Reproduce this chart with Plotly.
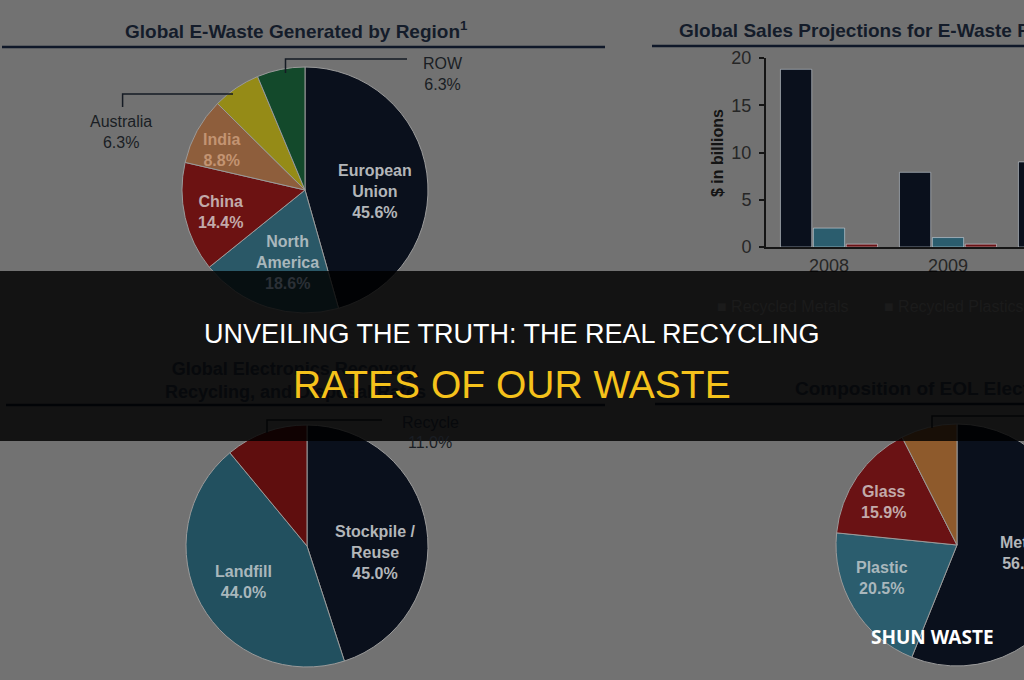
import plotly.graph_objects as go

# ---------------- data ----------------
region_labels = ["European Union", "North America", "China", "India", "Australia", "ROW"]
region_values = [45.6, 18.6, 14.4, 8.8, 6.3, 6.3]
region_colors = ["#0a101c", "#2a5867", "#6c1212", "#8e5e3c", "#958b17", "#13492b"]

years = ["2008", "2009", "2010"]
recycled_metals = [18.8, 7.9, 9.0]
recycled_plastics = [2.0, 1.0, 1.1]
recycled_glass = [0.3, 0.3, 0.3]
y_ticks = [0, 5, 10, 15, 20]

fate_labels = ["Stockpile / Reuse", "Landfill", "Recycle"]
fate_values = [45.0, 44.0, 11.0]
fate_colors = ["#0a101c", "#22505f", "#5f0e0e"]

material_labels = ["Metals", "Plastic", "Glass", "Other"]
material_values = [56.1, 20.5, 15.9, 7.5]
material_colors = ["#0a101c", "#2b5d6e", "#6a1214", "#8e5a2c"]

# ---------------- geometry helpers ----------------
W, H = 1160, 680          # drawing surface (right part is clipped to the 1024 view)
VIEW_W = 1024
BG = "#727272"
NAVY_TXT = "#141c2a"
DIM_TXT = "#07090c"
LIGHT = "#b3b6b9"
ARIAL = "Liberation Sans, Arial, sans-serif"


def px(x):
    return x / W


def py(y):
    return 1 - y / H


def pie_domain(cx, cy, r):
    return dict(x=[px(cx - r), px(cx + r)], y=[py(cy + r), py(cy - r)])


def two_line(label):
    if " / " in label:
        return label.replace(" / ", " /<br>")
    return label.replace(" ", "<br>")


def pct(v):
    return f"{v:.1f}%"


fig = go.Figure()

# ---------------- pies ----------------
fig.add_trace(go.Pie(labels=region_labels, values=region_values, sort=False,
                     direction="clockwise", rotation=0, textinfo="none",
                     marker=dict(colors=region_colors, line=dict(color="#9a9a9a", width=1)),
                     domain=pie_domain(305, 190, 123), hoverinfo="label+percent"))
fig.add_trace(go.Pie(labels=fate_labels, values=fate_values, sort=False,
                     direction="clockwise", rotation=0, textinfo="none",
                     marker=dict(colors=fate_colors, line=dict(color="#9a9a9a", width=1)),
                     domain=pie_domain(307, 546, 121), hoverinfo="label+percent"))
fig.add_trace(go.Pie(labels=material_labels, values=material_values, sort=False,
                     direction="clockwise", rotation=0, textinfo="none",
                     marker=dict(colors=material_colors, line=dict(color="#9a9a9a", width=1)),
                     domain=pie_domain(957, 545, 121), hoverinfo="label+percent"))

# ---------------- bars ----------------
fig.add_trace(go.Bar(x=years, y=recycled_metals, name="Recycled Metals", marker_color="#0a101c"))
fig.add_trace(go.Bar(x=years, y=recycled_plastics, name="Recycled Plastics", marker_color="#2b5d6e"))
fig.add_trace(go.Bar(x=years, y=recycled_glass, name="Recycled Glass", marker_color="#6a1214"))

spacing = 119.0
c0 = 829.0
fig.update_layout(
    xaxis=dict(domain=[px(766), 1.0], type="category",
               range=[(766 - c0) / spacing, (W - c0) / spacing],
               showline=True, linecolor="#151515", linewidth=2, ticks="",
               showgrid=False, zeroline=False, automargin=False,
               tickfont=dict(family=ARIAL, size=18, color="#262626"),
               ticklabelstandoff=1),
    yaxis=dict(domain=[py(247), py(58)], range=[0, 20], tickvals=y_ticks,
               showline=True, linecolor="#151515", linewidth=2, ticks="outside",
               ticklen=5, tickcolor="#151515", tickwidth=1.5,
               showgrid=False, zeroline=False, automargin=False,
               tickfont=dict(family=ARIAL, size=18, color="#262626"),
               ticklabelstandoff=4),
    barmode="group", bargap=0.17, bargroupgap=0.05,
)

# ---------------- shapes ----------------
shapes = []
line_style = dict(color="#151b24", width=1.5)
for (x0, x1, y) in [(2, 605, 47), (652, W, 46), (6, 605, 405), (655, W, 404)]:
    shapes.append(dict(type="line", xref="paper", yref="paper", x0=px(x0), x1=px(x1),
                       y0=py(y), y1=py(y), line=dict(color="#0f1829", width=2.5), layer="above"))
leaders = [
    [(285.5, 73), (285.5, 59), (407, 59)],      # ROW
    [(122.6, 107), (122.6, 94), (233, 94)],     # Australia
    [(267, 433), (267, 420), (382, 420)],       # Recycle
    [(932, 428), (932, 416), (W, 416)],         # Other
]
for pts in leaders:
    path = "M " + " L ".join(f"{px(x)},{py(y)}" for x, y in pts)
    shapes.append(dict(type="path", xref="paper", yref="paper", path=path,
                       line=line_style, layer="above"))
shapes.append(dict(type="rect", xref="paper", yref="paper", x0=0, x1=1,
                   y0=py(441), y1=py(271), fillcolor="rgba(0,0,0,0.83)",
                   line=dict(width=0), layer="above"))
fig.update_layout(shapes=shapes)

# ---------------- annotations ----------------
ann = []


def add(text, x, y, size=16, color=LIGHT, bold=False, xanchor="center", family=ARIAL, angle=0, align="center"):
    if bold:
        text = f"<b>{text}</b>"
    ann.append(dict(text=text, x=px(x), y=py(y), xref="paper", yref="paper",
                    showarrow=False, xanchor=xanchor, yanchor="middle", align=align,
                    textangle=angle, font=dict(family=family, size=size, color=color)))


add("Global E-Waste Generated by Region<sup>1</sup>", 296, 30, size=19, color=NAVY_TXT, bold=True)
add("Global Sales Projections for E-Waste Recycling", 677, 31, size=19, color=NAVY_TXT, bold=True, xanchor="left")
add("Global Electronics Recovery,<br>Recycling, and Disposal Rates", 295, 380, size=18, color=DIM_TXT, bold=True)
add("Composition of EOL Electronics", 793, 388, size=19, color=DIM_TXT, bold=True, xanchor="left")

add(two_line(region_labels[0]) + "<br>" + pct(region_values[0]), 375, 191, bold=True)
add(two_line(region_labels[1]), 287, 252, bold=True, color="#a9b7bc")
add(pct(region_values[1]), 287, 283, bold=True, color="#2b3036")
add(region_labels[2] + "<br>" + pct(region_values[2]), 220, 212, bold=True, color="#c2aaaa")
add(region_labels[3] + "<br>" + pct(region_values[3]), 221, 150, bold=True, color="#c39472")
add(region_labels[4] + "<br>" + pct(region_values[4]), 121, 132, color="#1a1e24")
add(region_labels[5] + "<br>" + pct(region_values[5]), 421, 74, color="#1a1e24", xanchor="left")

add("$ in billions", 718, 153, size=16, color="#141414", bold=True, angle=-90)
add("■ Recycled Metals", 715, 307, size=16, color="#1b1b1b", xanchor="left")
add("■ Recycled Plastics", 882, 307, size=16, color="#1b1b1b", xanchor="left")

add(two_line(fate_labels[0]) + "<br>" + pct(fate_values[0]), 375, 552, bold=True)
add(fate_labels[1] + "<br>" + pct(fate_values[1]), 243, 582, bold=True, color="#a9b7bc")
add(fate_labels[2], 430, 422, color=DIM_TXT)
add(pct(fate_values[2]), 430, 442, color="#1a1e24")

add(material_labels[2] + "<br>" + pct(material_values[2]), 883, 502, bold=True, color="#c2aaaa")
add(material_labels[1] + "<br>" + pct(material_values[1]), 882, 578, bold=True, color="#a9b7bc")
add(material_labels[0] + "<br>" + pct(material_values[0]), 1025, 553, bold=True)

add("UNVEILING THE TRUTH: THE REAL RECYCLING", VIEW_W / 2, 334, size=27, color="#ffffff")
add("RATES OF OUR WASTE", VIEW_W / 2, 384, size=39, color="#f5c21b")

add("SHUN WASTE", 932, 637, size=19, color="#ffffff", bold=True, family="Noto Sans, Open Sans, sans-serif")

fig.update_layout(
    annotations=ann,
    width=W, height=H,
    margin=dict(l=0, r=0, t=0, b=0, pad=0, autoexpand=False),
    paper_bgcolor=BG, plot_bgcolor="rgba(0,0,0,0)",
    showlegend=False,
    autosize=False,
)

clip_js = (
    "document.documentElement.style.overflow='hidden';"
    "document.documentElement.style.margin='0';"
    "document.body.style.overflow='hidden';document.body.style.margin='0';"
    "var gd=document.getElementById('{plot_id}');"
    "var p=gd.parentElement;p.style.width='1024px';p.style.height='680px';"
    "p.style.overflow='hidden';p.style.margin='0';"
)

fig.write_html("out.html", config={"displayModeBar": False}, post_script=clip_js)
